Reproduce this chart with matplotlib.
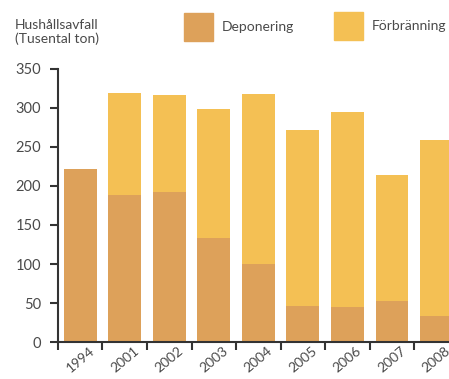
import matplotlib.pyplot as plt
from matplotlib.patches import Rectangle

years = ['1994', '2001', '2002', '2003', '2004', '2005', '2006', '2007', '2008']
deponering = [222, 188, 192, 133, 100, 46, 45, 53, 33]
forbranning = [0, 131, 125, 166, 218, 226, 250, 161, 226]
yticks = [0, 50, 100, 150, 200, 250, 300, 350]

dep_color = '#DDA15A'
forb_color = '#F4C054'
text_color = '#4a4a4a'
axis_color = '#333333'

plt.rcParams['font.family'] = ['Lato', 'DejaVu Sans']

fig = plt.figure(figsize=(4.49, 3.79), dpi=100)
ax = fig.add_axes([0.129, 0.0976, 0.871, 0.7204])

x = list(range(len(years)))
ax.bar(x, deponering, width=0.74, color=dep_color, label='Deponering')
ax.bar(x, forbranning, width=0.74, bottom=deponering, color=forb_color, label='Förbränning')

ax.set_xlim(-0.5, 8.28)
ax.set_ylim(0, 350)

for s in ['top', 'right']:
    ax.spines[s].set_visible(False)
for s in ['left', 'bottom']:
    ax.spines[s].set_color(axis_color)
    ax.spines[s].set_linewidth(1.5)

ax.set_yticks(yticks)
ax.set_yticklabels([str(v) for v in yticks], fontsize=10.5, color=text_color)
ax.tick_params(axis='y', length=6, width=1.5, color=axis_color, pad=6)

# tick marks sit between the bars, labels at bar centres
ax.set_xticks([i - 0.5 for i in x])
ax.set_xticklabels([])
ax.tick_params(axis='x', which='major', length=6, width=1.5, color=axis_color)
ax.set_xticks(x, minor=True)
ax.set_xticklabels(years, minor=True, rotation=40, fontsize=10, color=text_color,
                   ha='center', va='top')
ax.tick_params(axis='x', which='minor', length=0, pad=2)

fig.text(0.127, 0.915, 'Hushållsavfall\n(Tusental ton)', ha='center', va='center',
         fontsize=10, color=text_color, linespacing=1.1)

# legend boxes drawn in figure space
fig.patches.append(Rectangle((184 / 449, 1 - 41 / 379), 29 / 449, 28 / 379,
                             transform=fig.transFigure, color=dep_color))
fig.patches.append(Rectangle((334 / 449, 1 - 40 / 379), 29 / 449, 28 / 379,
                             transform=fig.transFigure, color=forb_color))
fig.text(222 / 449, 1 - 27 / 379, 'Deponering', ha='left', va='center',
         fontsize=10, color=text_color)
fig.text(372 / 449, 1 - 26 / 379, 'Förbränning', ha='left', va='center',
         fontsize=10, color=text_color)

fig.savefig('out.png', dpi=100)
